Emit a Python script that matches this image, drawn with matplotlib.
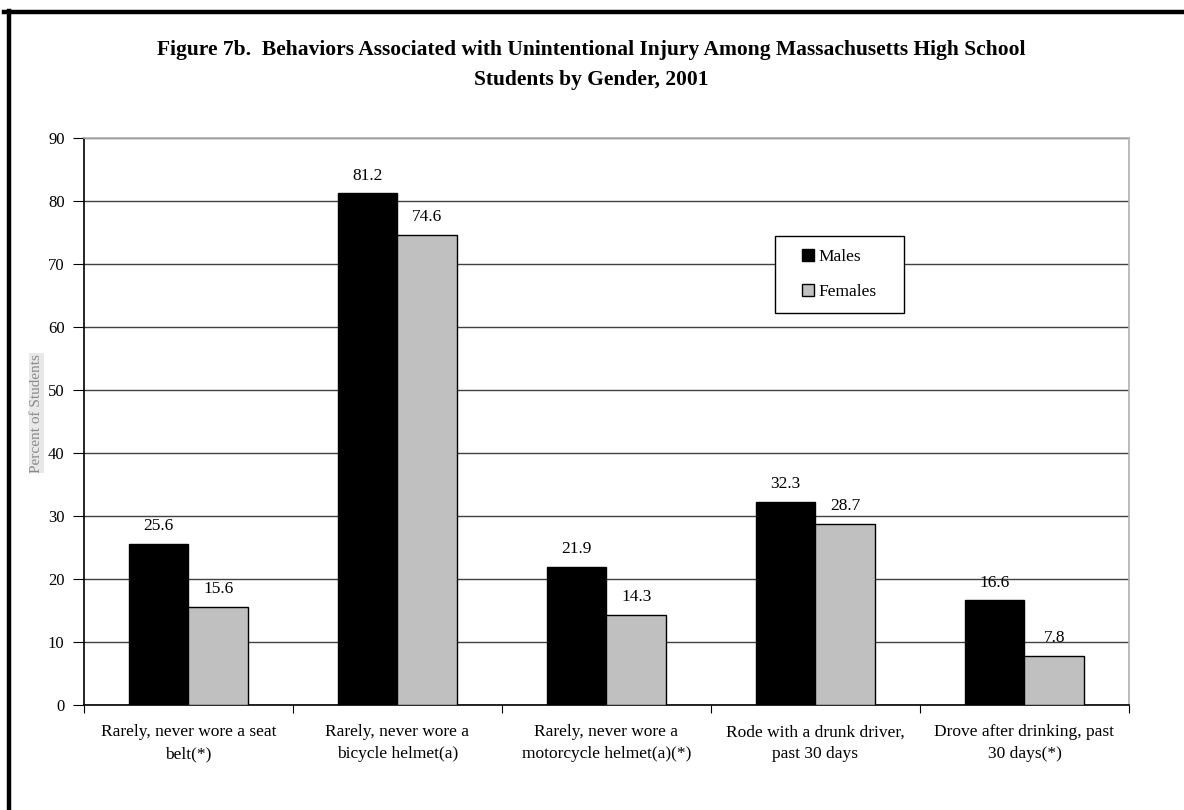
import matplotlib.pyplot as plt
from matplotlib.lines import Line2D
from matplotlib.patches import Rectangle
import numpy as np

plt.rcParams['font.family'] = ['Liberation Serif', 'DejaVu Serif']

categories = ['Rarely, never wore a seat\nbelt(*)',
              'Rarely, never wore a\nbicycle helmet(a)',
              'Rarely, never wore a\nmotorcycle helmet(a)(*)',
              'Rode with a drunk driver,\npast 30 days',
              'Drove after drinking, past\n30 days(*)']
males = [25.6, 81.2, 21.9, 32.3, 16.6]
females = [15.6, 74.6, 14.3, 28.7, 7.8]

fig = plt.figure(figsize=(11.84, 8.10), dpi=100)
ax = fig.add_axes([0.0709, 0.1296, 0.8826, 0.700])

x = np.arange(len(categories)) + 0.5
w = 1 / 3.5
b1 = ax.bar(x - w / 2, males, w, color='black', edgecolor='black', linewidth=1, label='Males', zorder=3)
b2 = ax.bar(x + w / 2, females, w, color='#c0c0c0', edgecolor='black', linewidth=1, label='Females', zorder=3)
for bars in (b1, b2):
    for r in bars:
        ax.annotate(f'{r.get_height():.1f}', (r.get_x() + r.get_width() / 2, r.get_height()),
                    xytext=(0, 7), textcoords='offset points', ha='center', va='bottom', fontsize=12.5)

ax.set_xlim(0, 5)
ax.set_ylim(0, 90)
ax.set_yticks(range(0, 91, 10))
ax.set_xticks(range(0, 6), minor=False)
ax.set_xticklabels([])
ax.set_xticks(x, minor=True)
ax.set_xticklabels(categories, minor=True, fontsize=12.5, linespacing=1.5)
ax.tick_params(axis='x', which='minor', length=0, pad=14)
ax.tick_params(axis='x', which='major', length=6, direction='out', color='black')
ax.tick_params(axis='y', length=8, direction='out', labelsize=12, pad=6)
ax.yaxis.grid(True, color='#404040', linewidth=1, zorder=0)
ax.set_axisbelow(True)

ax.spines['left'].set_color('black')
ax.spines['bottom'].set_color('black')
ax.spines['top'].set_color('#b0b0b0')
ax.spines['right'].set_color('#b0b0b0')
for s in ax.spines.values():
    s.set_linewidth(1.2)

fig.text(0.031, 0.49, 'Percent of Students', rotation=90, ha='center', va='center',
         fontsize=11, color='#8a8a8a',
         bbox=dict(facecolor='#e8e8e8', edgecolor='none', pad=0.5))

fig.text(0.499, 0.938, 'Figure 7b.  Behaviors Associated with Unintentional Injury Among Massachusetts High School',
         ha='center', va='center', fontsize=15.5, fontweight='bold')
fig.text(0.499, 0.901, 'Students by Gender, 2001',
         ha='center', va='center', fontsize=15.5, fontweight='bold')

# legend frame drawn separately for Excel-like padding
ax.add_patch(Rectangle((0.661, 0.691), 0.1234, 0.136, transform=ax.transAxes,
                       facecolor='white', edgecolor='black', linewidth=1, zorder=5))
leg = ax.legend(loc='center', bbox_to_anchor=(0.7227, 0.759), fontsize=12.5, frameon=False,
                handlelength=0.7, handleheight=0.7, handletextpad=0.25, labelspacing=1.1,
                borderpad=0, borderaxespad=0)
leg.set_zorder(6)

fig.add_artist(Line2D([0.003, 1.0], [0.985, 0.985], color='black', linewidth=3.2))
fig.add_artist(Line2D([0.0075, 0.0075], [0.987, 0.0], color='black', linewidth=3.2))

fig.savefig('out.png', dpi=100)
